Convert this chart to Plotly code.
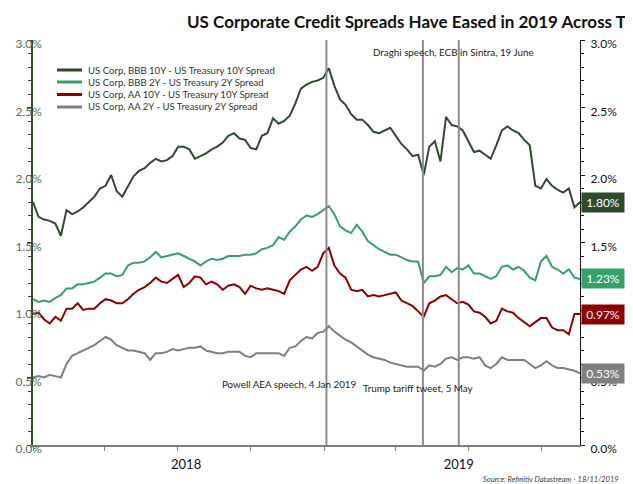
import plotly.graph_objects as go
import pandas as pd

# ---------------- data (weekly readings, percent) ----------------
dates = pd.date_range("2018-01-01", "2019-11-18", freq="7D")

bbb_10y = [1.80,1.69,1.67,1.66,1.64,1.55,1.74,1.71,1.73,1.76,
           1.80,1.84,1.90,1.92,2.00,1.88,1.84,1.92,1.99,2.03,
           2.05,2.09,2.12,2.10,2.11,2.14,2.21,2.21,2.19,2.12,
           2.14,2.16,2.19,2.21,2.24,2.29,2.31,2.27,2.26,2.20,
           2.19,2.29,2.31,2.42,2.38,2.40,2.44,2.53,2.64,2.67,
           2.69,2.70,2.72,2.79,2.66,2.56,2.52,2.45,2.41,2.41,
           2.37,2.32,2.31,2.33,2.35,2.29,2.23,2.19,2.14,2.15,
           2.00,2.21,2.25,2.10,2.43,2.37,2.36,2.33,2.25,2.17,
           2.18,2.15,2.12,2.22,2.33,2.36,2.33,2.31,2.26,2.22,
           1.92,1.90,1.97,1.92,1.89,1.87,1.90,1.76,1.80]

bbb_2y = [1.08,1.06,1.07,1.06,1.09,1.11,1.16,1.16,1.19,1.19,
          1.20,1.21,1.24,1.27,1.27,1.25,1.26,1.33,1.35,1.35,
          1.36,1.39,1.43,1.39,1.40,1.41,1.42,1.40,1.38,1.36,
          1.33,1.36,1.38,1.37,1.38,1.40,1.40,1.40,1.41,1.41,
          1.42,1.45,1.46,1.48,1.54,1.52,1.58,1.62,1.67,1.70,
          1.69,1.71,1.74,1.77,1.71,1.62,1.59,1.57,1.63,1.58,
          1.51,1.48,1.45,1.43,1.41,1.41,1.39,1.37,1.36,1.36,
          1.20,1.25,1.25,1.26,1.32,1.28,1.31,1.30,1.33,1.27,
          1.27,1.25,1.23,1.25,1.32,1.33,1.30,1.32,1.29,1.24,
          1.22,1.36,1.40,1.32,1.30,1.27,1.30,1.24,1.23]

aa_10y = [0.97,0.98,0.93,0.90,0.95,0.92,1.01,1.01,1.05,1.00,
          1.01,1.01,1.05,1.08,1.07,1.05,1.05,1.08,1.12,1.15,
          1.17,1.20,1.24,1.21,1.20,1.23,1.26,1.17,1.20,1.25,
          1.24,1.19,1.21,1.19,1.15,1.18,1.19,1.17,1.12,1.18,
          1.16,1.15,1.16,1.15,1.14,1.12,1.22,1.26,1.30,1.32,
          1.29,1.32,1.42,1.46,1.33,1.27,1.24,1.15,1.14,1.15,
          1.10,1.11,1.10,1.11,1.12,1.13,1.07,1.05,1.03,0.99,
          0.95,1.05,1.07,1.10,1.11,1.08,1.05,1.06,1.04,0.99,
          0.98,0.95,0.90,0.92,1.01,0.99,0.98,0.94,0.91,0.88,
          0.91,0.94,0.94,0.87,0.85,0.85,0.82,0.97,0.97]

aa_2y = [0.50,0.51,0.50,0.52,0.51,0.50,0.60,0.66,0.68,0.70,
         0.72,0.74,0.77,0.80,0.78,0.74,0.72,0.70,0.70,0.69,
         0.68,0.63,0.68,0.68,0.69,0.71,0.70,0.71,0.72,0.72,
         0.73,0.70,0.69,0.68,0.68,0.69,0.69,0.69,0.66,0.65,
         0.68,0.68,0.68,0.68,0.68,0.66,0.72,0.73,0.77,0.80,
         0.79,0.83,0.84,0.88,0.84,0.81,0.78,0.76,0.73,0.70,
         0.67,0.65,0.64,0.63,0.61,0.60,0.59,0.58,0.58,0.58,
         0.55,0.59,0.58,0.60,0.64,0.65,0.63,0.65,0.65,0.64,
         0.65,0.59,0.57,0.60,0.65,0.63,0.63,0.63,0.63,0.60,
         0.57,0.59,0.62,0.59,0.57,0.57,0.56,0.55,0.53]

series_names = ["US Corp, BBB 10Y - US Treasury 10Y Spread",
                "US Corp, BBB 2Y - US Treasury 2Y Spread",
                "US Corp, AA 10Y - US Treasury 10Y Spread",
                "US Corp, AA 2Y - US Treasury 2Y Spread"]
series_values = [bbb_10y, bbb_2y, aa_10y, aa_2y]
series_colors = ["#2F4A2F", "#36A06B", "#8E0000", "#7F7F7F"]
end_labels = ["1.80%", "1.23%", "0.97%", "0.53%"]

event_dates = ["2019-01-04", "2019-05-05", "2019-06-19"]
event_texts = ["Powell AEA speech, 4 Jan 2019", "Trump tariff tweet, 5 May",
               "Draghi speech, ECB in Sintra, 19 June"]

year_tick_dates = ["2018-07-12", "2019-06-19"]
year_tick_labels = ["2018", "2019"]
quarter_ticks = pd.date_range("2018-01-01", "2019-10-01", freq="QS")

y_ticks = [0, 0.5, 1.0, 1.5, 2.0, 2.5, 3.0]
y_tick_text = [f"{v:.1f}%" for v in y_ticks]

FONT = "Lato"

fig = go.Figure()
for name, vals, col in zip(series_names, series_values, series_colors):
    fig.add_trace(go.Scatter(x=dates, y=vals, name=name, mode="lines",
                             line=dict(color=col, width=2), showlegend=False))
# invisible copy on the right-hand axis so that axis is drawn with its labels
fig.add_trace(go.Scatter(x=dates, y=bbb_10y, yaxis="y2", mode="lines",
                         line=dict(color="rgba(0,0,0,0)", width=0),
                         showlegend=False, hoverinfo="skip"))

# vertical event lines
for d in event_dates:
    fig.add_shape(type="line", xref="x", yref="paper", x0=d, x1=d, y0=0, y1=1,
                  line=dict(color="#8C8C8C", width=2), layer="above")

# page offset (the browser body has an 8px margin)
OFF = 8
W, H = 633 - OFF, 484 - OFF
L, R, T, B = 33 - OFF, 53, 40 - OFF, 39
pw, ph = W - L - R, H - T - B


def px(x):
    # x in page pixels -> paper fraction
    return (x - 33) / pw


def py(y):
    # y in page pixels -> paper fraction
    return (445 - y) / ph


annotations = []
# title
annotations.append(dict(text="<b>US Corporate Credit Spreads Have Eased in 2019 Across T</b>",
                        xref="paper", yref="paper", x=px(185), y=py(22),
                        xanchor="left", yanchor="middle", showarrow=False,
                        font=dict(family=FONT, size=17, color="#111111")))
# event texts
ev_pos = [(289, 384), (418, 388), (453, 52)]
for t, (ex, ey) in zip(event_texts, ev_pos):
    annotations.append(dict(text=t, xref="paper", yref="paper", x=px(ex), y=py(ey),
                            xanchor="center", yanchor="middle", showarrow=False,
                            font=dict(family=FONT, size=9.8, color="#222222")))
# manual legend
leg_rows = [70, 82, 94.5, 107]
for name, col, ry in zip(series_names, series_colors, leg_rows):
    fig.add_shape(type="line", xref="paper", yref="paper", x0=px(57), x1=px(82),
                  y0=py(ry), y1=py(ry), line=dict(color=col, width=3))
    annotations.append(dict(text=name, xref="paper", yref="paper", x=px(86), y=py(ry),
                            xanchor="left", yanchor="middle", showarrow=False,
                            font=dict(family=FONT, size=9.6, color="#333333")))
# end value boxes
for vals, col, lab in zip(series_values, series_colors, end_labels):
    annotations.append(dict(text=lab, xref="paper", yref="y", x=1, y=vals[-1],
                            xanchor="left", yanchor="middle", xshift=1, showarrow=False,
                            bgcolor=col, width=38, height=15, borderpad=2,
                            font=dict(family=FONT, size=12, color="white")))
# source
annotations.append(dict(text="<i>Source: Refinitiv Datastream - 18/11/2019</i>",
                        xref="paper", yref="paper", x=px(621), y=py(479),
                        xanchor="right", yanchor="middle", showarrow=False,
                        font=dict(family=FONT, size=7.5, color="#404040")))

fig.update_layout(
    width=W, height=H,
    margin=dict(l=L, r=R, t=T, b=B, pad=0, autoexpand=False),
    paper_bgcolor="white", plot_bgcolor="white",
    showlegend=False,
    font=dict(family=FONT),
    annotations=annotations,
    xaxis=dict(range=[dates[0], dates[-1]], showgrid=False, zeroline=False, automargin=False,
               showline=True, linecolor="#7F7F7F", linewidth=2,
               tickmode="array", tickvals=year_tick_dates, ticktext=year_tick_labels,
               ticks="outside", ticklen=0, ticklabelstandoff=6,
               tickfont=dict(family=FONT, size=13, color="#111111"),
               minor=dict(tickmode="array", tickvals=list(quarter_ticks), ticks="outside",
                          ticklen=4, tickwidth=1, tickcolor="#7F7F7F", showgrid=False)),
    yaxis=dict(range=[0, 3.0], showgrid=False, zeroline=False, automargin=False,
               showline=True, linecolor="#2F4F2F", linewidth=1.5,
               tickmode="array", tickvals=y_ticks, ticktext=y_tick_text,
               ticks="outside", ticklen=4, tickcolor="#2F4F2F",
               ticklabelstandoff=-17, ticklabelshift=4,
               tickfont=dict(family=FONT, size=12, color="#56705A"),
               minor=dict(dtick=0.1, ticks="outside", ticklen=3, tickcolor="#2F4F2F")),
    yaxis2=dict(range=[0, 3.0], overlaying="y", side="right", showgrid=False,
                zeroline=False, showline=True, linecolor="#111111", linewidth=1,
                automargin=False,
                tickmode="array", tickvals=y_ticks, ticktext=y_tick_text,
                ticks="outside", ticklen=4, tickcolor="#111111",
                ticklabelshift=4, ticklabelstandoff=3,
                tickfont=dict(family=FONT, size=12, color="#111111"),
                minor=dict(dtick=0.1, ticks="outside", ticklen=3, tickcolor="#111111")),
)

fig.write_html("out.html")
